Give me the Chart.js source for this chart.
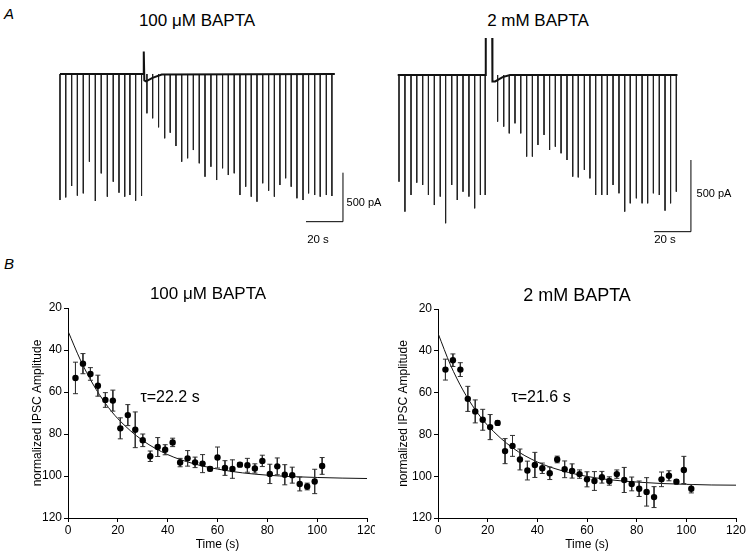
<!DOCTYPE html>
<html>
<head>
<meta charset="utf-8">
<script src="https://cdn.jsdelivr.net/npm/chart.js@4.4.1/dist/chart.umd.min.js"></script>
<style>
body { margin: 0; background: #fff; }
#fig { position: relative; width: 750px; height: 556px; overflow: hidden; font-family: "Liberation Sans", Arial, sans-serif; color: #000; }
#fig canvas { position: absolute; }
.lbl { position: absolute; white-space: nowrap; line-height: 1; transform: translate(-50%, -50%); }
</style>
</head>
<body>
<div id="fig">
    <canvas id="traceLow" width="310" height="210" style="left:50px;top:30px"></canvas>
    <canvas id="traceHigh" width="315" height="210" style="left:385px;top:30px"></canvas>
    <canvas id="plotLow" width="375" height="266" style="left:0px;top:290px"></canvas>
    <canvas id="plotHigh" width="375" height="266" style="left:375px;top:290px"></canvas>

    <div class="lbl" style="left:9px;top:13px;font-size:15px;font-style:italic">A</div>
    <div class="lbl" style="left:197px;top:20px;font-size:17px">100 μM BAPTA</div>
    <div class="lbl" style="left:538px;top:20px;font-size:17px">2 mM BAPTA</div>
    <div class="lbl" style="left:364px;top:202px;font-size:11px">500 pA</div>
    <div class="lbl" style="left:318px;top:240px;font-size:11.5px">20 s</div>
    <div class="lbl" style="left:714px;top:193px;font-size:11px">500 pA</div>
    <div class="lbl" style="left:665px;top:240px;font-size:11.5px">20 s</div>

    <div class="lbl" style="left:9px;top:263px;font-size:15px;font-style:italic">B</div>
    <div class="lbl" style="left:208px;top:293px;font-size:17px">100 μM BAPTA</div>
    <div class="lbl" style="left:577px;top:295px;font-size:18px">2 mM BAPTA</div>
    <div class="lbl" style="left:170px;top:397px;font-size:16px">τ=22.2 s</div>
    <div class="lbl" style="left:541px;top:397px;font-size:16px">τ=21.6 s</div>
</div>

<script>
// --- panel A: IPSC traces (s, pA) ---
const spikeTimesLow = [0, 3.1, 6.3, 9.4, 12.6, 15.9, 19.1, 22.3, 25.6, 28.8, 31.9, 35.0, 37.8, 40.9, 44.1,
    47.0, 50.1, 53.3, 56.6, 59.6, 62.7, 65.8, 69.0, 72.1, 75.3, 78.4, 81.6, 84.7, 87.9, 91.0, 94.2, 97.3,
    100.4, 103.4, 106.5, 109.6, 112.8, 115.9, 118.9, 122.0, 125.0, 128.1, 131.4, 134.4, 137.7, 140.7, 144.0, 147.0];
const spikeAmpsLow = [1286, 1259, 1143, 1241, 1218, 895, 1296, 1014, 1252, 1099, 1211, 1252, 1235, 1293, 1245,
    401, 452, 544, 656, 599, 735, 895, 860, 776, 911, 1048, 946, 1082, 962, 1031, 1013, 1235,
    1150, 1252, 1303, 1115, 1191, 1252, 1133, 1064, 1150, 1268, 1286, 1218, 1235, 1252, 1235, 1245];
const baseTimesLow = [0, 45.3, 45.3, 45.6, 46.5, 50, 55, 148.6];
const baseValuesLow = [0, 0, 230, -65, -75, -40, -5, 0];

const spikeTimesHigh = [0, 3.2, 6.5, 9.6, 12.8, 15.9, 19.1, 22.3, 25.2, 28.5, 31.5, 34.6, 37.8, 40.9, 44.0, 46.6,
    53.3, 56.6, 59.6, 62.7, 65.8, 69.0, 72.1, 75.1, 78.4, 81.4, 84.5, 87.6, 90.8, 93.9, 96.9, 100.2,
    103.2, 106.3, 109.6, 112.6, 115.7, 118.9, 122.0, 125.0, 128.3, 131.4, 134.4, 137.5, 140.7, 143.8, 146.8, 149.9];
const spikeAmpsHigh = [744, 953, 837, 751, 767, 837, 907, 848, 1034, 767, 872, 814, 848, 930, 837, 837,
    325, 360, 407, 337, 407, 569, 569, 488, 418, 523, 500, 546, 593, 709, 714, 662,
    721, 837, 837, 837, 767, 825, 953, 895, 860, 895, 895, 825, 837, 946, 895, 814];
const baseTimesHigh = [-0.7, 46.9, 46.9, 46.9, 50.4, 50.5, 52, 56, 60, 150.5];
const baseValuesHigh = [0, 0, 258, null, 258, -45, -45, -15, 0, 0];

const scaleBarSeconds = 20;
const scaleBarPA = 500;

// --- panel B: normalized IPSC amplitude ---
const timesB = [3, 6, 9, 12, 15, 18, 21, 24, 27, 30, 33, 36, 39, 42, 45, 48, 51, 54, 57, 60, 63, 66, 69, 72,
    75, 78, 81, 84, 87, 90, 93, 96, 99, 102];
const ampLow = [53.3, 46.5, 51.4, 57, 63.8, 64.1, 77.3, 71, 78, 83, 90.6, 86.2, 87.5, 84, 93.6, 91.6, 93.5,
    94.1, 96.6, 91.2, 96.2, 96.7, 94.6, 94.9, 96.4, 92.8, 99, 95.4, 99.4, 99.6, 103.8, 105, 102.6, 95.2];
const errLow = [7.5, 4.8, 3, 5, 3.5, 5, 5, 5, 8.5, 3, 2.5, 4.5, 2.4, 2, 2, 3.7, 2.5, 4.3, 1, 5, 3.5, 4.4, 1,
    3.3, 2.2, 2.7, 4.6, 4, 4.8, 3.8, 3.3, 1.6, 5.8, 4];
const ampHigh = [49, 44.5, 49, 63, 69, 73, 76.5, 74.5, 88, 85.5, 92, 97.3, 94.6, 96.2, 98.6, 92, 96.7, 97.5,
    99, 101.5, 102.3, 100.5, 102.3, 99, 101.8, 103.7, 106, 107.5, 110, 101.5, 99.8, 102.6, 97, 106];
const errHigh = [5, 3, 3.3, 6, 5.5, 5, 6, 1, 6, 5, 5, 4.5, 6, 2.5, 3, 1.6, 4, 3.4, 2, 3.6, 4.5, 2.8, 2, 2,
    6, 3.3, 3.7, 6.8, 5, 3.5, 2.4, 1, 6.5, 2];

const fitTimes = [0, 5, 10, 15, 20, 30, 40, 50, 60, 70, 80, 90, 100, 110, 120];
const fitLow = [31, 44.8, 56.2, 65.4, 72.7, 83.1, 89.8, 94, 96.7, 98.5, 99.6, 100.3, 100.7, 101, 101.2];
const fitHigh = [31.6, 46.7, 58.7, 68.2, 75.7, 86.4, 93.2, 97.4, 100.1, 101.8, 102.8, 103.5, 103.9, 104.2, 104.3];

const xTicks = [0, 20, 40, 60, 80, 100, 120];
const yTicks = [20, 40, 60, 80, 100, 120];


function creaTraccia(idCanvas, times, amps, baseT, baseV, range, barCorner) {
    const ctx = document.getElementById(idCanvas).getContext('2d');

    const spikes = [];
    times.forEach((t, i) => {
        spikes.push({ x: t, y: 0 }, { x: t, y: -amps[i] }, { x: t, y: null });
    });
    const baseline = baseT.map((t, i) => ({ x: t, y: baseV[i] }));
    const bar = [
        { x: barCorner.x - scaleBarSeconds, y: barCorner.y },
        { x: barCorner.x, y: barCorner.y },
        { x: barCorner.x, y: barCorner.y + scaleBarPA }
    ];

    new Chart(ctx, {
        type: 'scatter',
        data: {
            datasets: [
                { data: baseline, showLine: true, borderColor: '#111', borderWidth: 2, pointRadius: 0, spanGaps: false },
                { data: spikes, showLine: true, borderColor: '#222', borderWidth: 1, pointRadius: 0, spanGaps: false },
                { data: bar, showLine: true, borderColor: '#000', borderWidth: 1, pointRadius: 0 }
            ]
        },
        options: {
            responsive: false,
            animation: false,
            events: [],
            layout: { padding: 0 },
            plugins: { legend: { display: false }, tooltip: { enabled: false } },
            scales: {
                x: { type: 'linear', display: false, min: range.xmin, max: range.xmax },
                y: { type: 'linear', display: false, min: range.ymin, max: range.ymax }
            }
        }
    });
}

function creaGrafico(idCanvas, amp, err, fit, box) {
    const ctx = document.getElementById(idCanvas).getContext('2d');

    const points = timesB.map((t, i) => ({ x: t, y: amp[i] }));
    const bars = [];
    timesB.forEach((t, i) => {
        bars.push({ x: t, y: amp[i] - err[i] }, { x: t, y: amp[i] + err[i] }, { x: t, y: null });
    });
    const curve = fitTimes.map((t, i) => ({ x: t, y: fit[i] }));

    const tickFont = { family: 'Liberation Sans', size: 12 };
    const titleFont = { family: 'Liberation Sans', size: 12 };

    new Chart(ctx, {
        type: 'scatter',
        data: {
            datasets: [
                {
                    data: points, order: 0,
                    pointRadius: 3.2, pointBackgroundColor: '#000', pointBorderColor: '#000', pointBorderWidth: 0
                },
                {
                    data: bars, order: 1, showLine: true, spanGaps: false,
                    borderColor: '#333', borderWidth: 1,
                    pointStyle: 'line', pointRadius: 2.5, pointBorderColor: '#333', pointBorderWidth: 1
                },
                {
                    data: curve, order: 2, showLine: true, cubicInterpolationMode: 'monotone',
                    borderColor: '#111', borderWidth: 1, pointRadius: 0
                }
            ]
        },
        options: {
            responsive: false,
            animation: false,
            events: [],
            layout: { padding: { top: box.top, right: box.right, bottom: 0, left: 0 } },
            plugins: { legend: { display: false }, tooltip: { enabled: false } },
            scales: {
                x: {
                    type: 'linear', min: 0, max: 120,
                    afterBuildTicks: scale => { scale.ticks = xTicks.map(v => ({ value: v })); },
                    afterFit: scale => { scale.height = 38; scale.paddingLeft = 0; scale.paddingRight = 0; },
                    ticks: { color: '#000', font: tickFont, padding: 1, maxRotation: 0 },
                    grid: { drawOnChartArea: false, drawTicks: true, tickLength: 4, color: '#000' },
                    border: { display: true, color: '#000', width: 1 },
                    title: { display: true, text: 'Time (s)', color: '#000', font: titleFont, padding: { top: 0, bottom: 4 } }
                },
                y: {
                    type: 'linear', min: 20, max: 120, reverse: true,
                    afterBuildTicks: scale => { scale.ticks = yTicks.map(v => ({ value: v })); },
                    afterFit: scale => { scale.width = box.yWidth; scale.paddingTop = 0; scale.paddingBottom = 0; },
                    ticks: { color: '#000', font: tickFont, padding: 2 },
                    grid: { drawOnChartArea: false, drawTicks: true, tickLength: 4, color: '#000' },
                    border: { display: true, color: '#000', width: 1 },
                    title: { display: true, text: 'normalized IPSC Amplitude', color: '#000', font: titleFont, padding: { top: box.titlePad, bottom: 0 } }
                }
            }
        }
    });
}

creaTraccia('traceLow', spikeTimesLow, spikeAmpsLow, baseTimesLow, baseValuesLow,
    { xmin: -5.4, xmax: 162.2, ymin: -1694, ymax: 449 }, { x: 153, y: -1507 });
creaTraccia('traceHigh', spikeTimesHigh, spikeAmpsHigh, baseTimesHigh, baseValuesHigh,
    { xmin: -7.57, xmax: 162.7, ymin: -1151, ymax: 314 }, { x: 157.8, y: -1093 });

creaGrafico('plotLow', ampLow, errLow, fitLow, { top: 18, right: 8, yWidth: 68, titlePad: 30 });
creaGrafico('plotHigh', ampHigh, errHigh, fitHigh, { top: 19, right: 14, yWidth: 63, titlePad: 21 });
</script>
</body>
</html>
